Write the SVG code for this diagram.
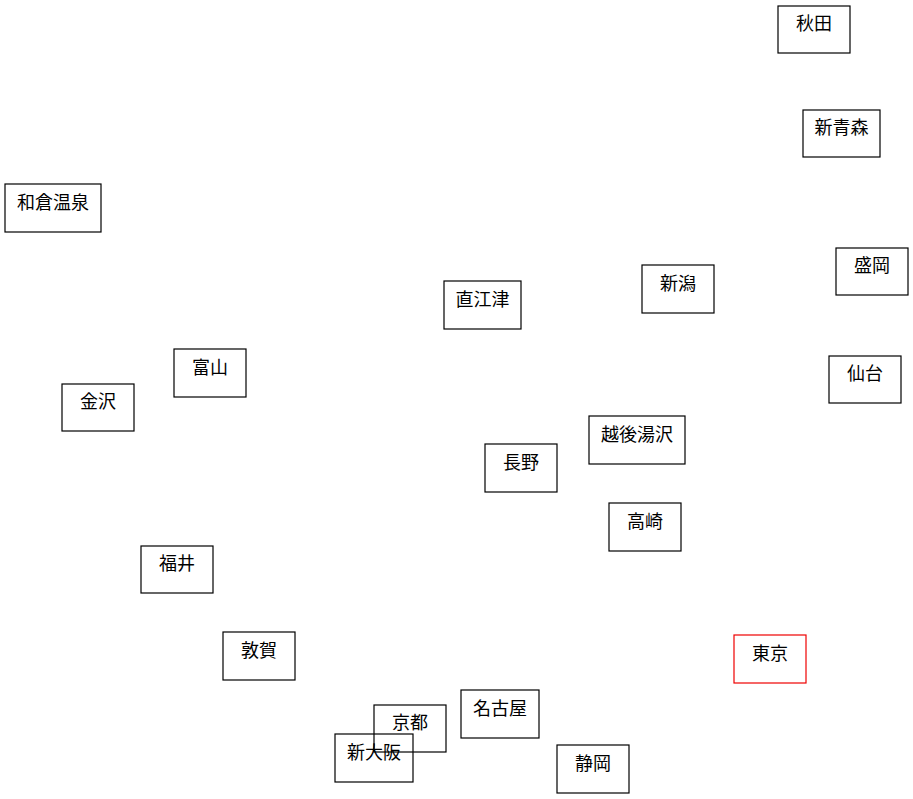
<svg xmlns="http://www.w3.org/2000/svg" width="913" height="799" viewBox="0 0 913 799">
<style>
rect{fill:none;stroke:#000;stroke-width:1.2}
rect.hl{stroke:#e00}
text{font-family:"Liberation Serif","Noto Sans CJK JP",serif;font-size:18px;text-anchor:middle;fill:#000}
</style>
<rect width="913" height="799" fill="#fff" stroke="none" style="fill:#fff;stroke:none"/>
<g id="connectors"></g>
<g id="akita"><rect x="778" y="6" width="72" height="47"/><text x="814" y="30">秋田</text></g>
<g id="shinaomori"><rect x="803" y="110" width="77" height="47"/><text x="841.5" y="134">新青森</text></g>
<g id="wakura"><rect x="5" y="184" width="96" height="48"/><text x="53" y="209">和倉温泉</text></g>
<g id="morioka"><rect x="836" y="248" width="72" height="47"/><text x="872" y="272">盛岡</text></g>
<g id="niigata"><rect x="642" y="265" width="72" height="48"/><text x="678" y="290">新潟</text></g>
<g id="naoetsu"><rect x="444" y="281" width="77" height="48"/><text x="482.5" y="306">直江津</text></g>
<g id="toyama"><rect x="174" y="349" width="72" height="48"/><text x="210" y="374">富山</text></g>
<g id="sendai"><rect x="829" y="356" width="72" height="47"/><text x="865" y="380">仙台</text></g>
<g id="kanazawa"><rect x="62" y="384" width="72" height="47"/><text x="98" y="408">金沢</text></g>
<g id="echigoyuzawa"><rect x="589" y="416" width="96" height="48"/><text x="637" y="441">越後湯沢</text></g>
<g id="nagano"><rect x="485" y="444" width="72" height="48"/><text x="521" y="469">長野</text></g>
<g id="takasaki"><rect x="609" y="503" width="72" height="48"/><text x="645" y="528">高崎</text></g>
<g id="fukui"><rect x="141" y="546" width="72" height="47"/><text x="177" y="570">福井</text></g>
<g id="tsuruga"><rect x="223" y="632" width="72" height="48"/><text x="259" y="657">敦賀</text></g>
<g id="tokyo"><rect class="hl" x="734" y="635" width="72" height="48"/><text x="770" y="660">東京</text></g>
<g id="nagoya"><rect x="461" y="690" width="78" height="48"/><text x="500" y="715">名古屋</text></g>
<g id="kyoto"><rect x="374" y="705" width="72" height="47"/><text x="410" y="729">京都</text></g>
<g id="shinosaka"><rect x="335" y="734" width="78" height="48"/><text x="374" y="759">新大阪</text></g>
<g id="shizuoka"><rect x="557" y="745" width="72" height="48"/><text x="593" y="770">静岡</text></g>
</svg>
